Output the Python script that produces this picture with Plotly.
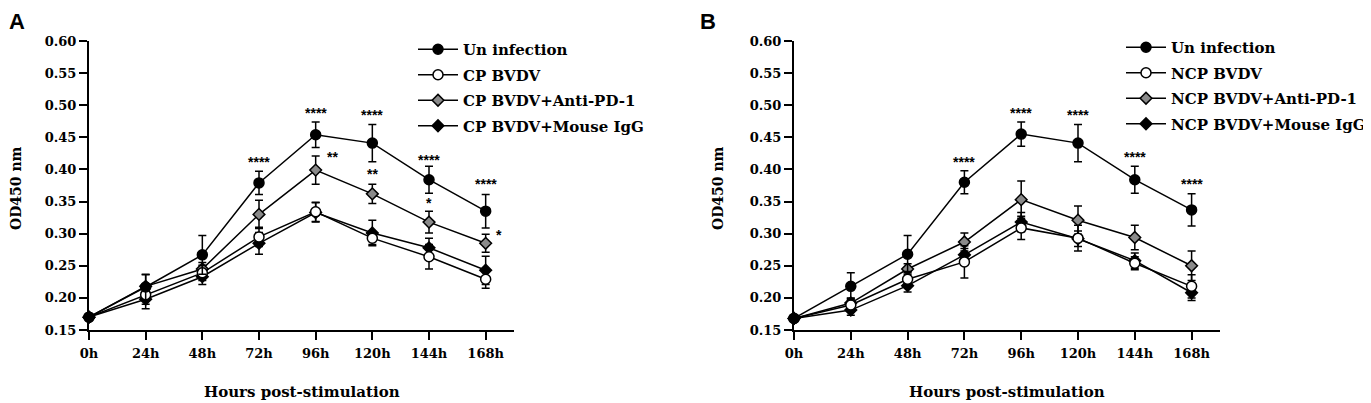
import plotly.graph_objects as go
from plotly.subplots import make_subplots

# %%
hours = [0, 24, 48, 72, 96, 120, 144, 168]
hour_labels = ["0h", "24h", "48h", "72h", "96h", "120h", "144h", "168h"]
y_ticks = [0.15, 0.20, 0.25, 0.30, 0.35, 0.40, 0.45, 0.50, 0.55, 0.60]

# panel A - CP BVDV
a_names = ["Un infection", "CP BVDV", "CP BVDV+Anti-PD-1", "CP BVDV+Mouse IgG"]
a_un = [0.170, 0.217, 0.267, 0.379, 0.454, 0.441, 0.384, 0.335]
a_un_err = [0, 0.020, 0.030, 0.018, 0.020, 0.029, 0.021, 0.026]
a_cp = [0.170, 0.205, 0.239, 0.295, 0.334, 0.293, 0.264, 0.229]
a_cp_err = [0, 0.015, 0.012, 0.015, 0.015, 0.010, 0.019, 0.014]
a_anti = [0.170, 0.218, 0.245, 0.330, 0.399, 0.362, 0.318, 0.285]
a_anti_err = [0, 0.018, 0.010, 0.022, 0.022, 0.015, 0.017, 0.014]
a_igg = [0.170, 0.198, 0.233, 0.285, 0.333, 0.301, 0.278, 0.243]
a_igg_err = [0, 0.015, 0.012, 0.017, 0.015, 0.020, 0.015, 0.022]

# panel B - NCP BVDV
b_names = ["Un infection", "NCP BVDV", "NCP BVDV+Anti-PD-1", "NCP BVDV+Mouse IgG"]
b_un = [0.168, 0.218, 0.268, 0.380, 0.455, 0.441, 0.384, 0.337]
b_un_err = [0, 0.021, 0.029, 0.018, 0.019, 0.029, 0.021, 0.025]
b_ncp = [0.168, 0.189, 0.229, 0.256, 0.309, 0.293, 0.254, 0.218]
b_ncp_err = [0, 0.010, 0.012, 0.025, 0.018, 0.020, 0.010, 0.018]
b_anti = [0.168, 0.192, 0.245, 0.287, 0.353, 0.321, 0.294, 0.250]
b_anti_err = [0, 0.008, 0.008, 0.014, 0.029, 0.022, 0.019, 0.023]
b_igg = [0.168, 0.181, 0.219, 0.267, 0.318, 0.292, 0.258, 0.208]
b_igg_err = [0, 0.008, 0.010, 0.010, 0.015, 0.012, 0.012, 0.012]

# significance marks (hour, y, text)
a_stars = [(72, 0.412, "****"), (96, 0.488, "****"), (103, 0.419, "**"),
           (120, 0.485, "****"), (120, 0.393, "**"), (144, 0.415, "****"),
           (144, 0.348, "*"), (168, 0.377, "****"), (173.5, 0.298, "*")]
b_stars = [(72, 0.412, "****"), (96, 0.488, "****"), (120, 0.485, "****"),
           (144, 0.419, "****"), (168, 0.377, "****")]

# %%
W, H = 1371, 403
OFF = 8  # page body margin, positions below are screen pixels
SERIF = "DejaVu Serif"


def px(x):
    return (x - OFF) / W


def py(y):
    return 1 - (y - OFF) / H


styles = [
    dict(symbol="circle", color="black", size=10),
    dict(symbol="circle", color="white", size=10),
    dict(symbol="diamond", color="#8a8a8a", size=9),
    dict(symbol="diamond", color="black", size=9),
]

fig = make_subplots(rows=1, cols=2)


def add_panel(col, names, series, errs, legend):
    # draw back to front so un infection / open circles sit on top
    for k in [3, 2, 1, 0]:
        st = styles[k]
        fig.add_trace(
            go.Scatter(
                x=hours, y=series[k], name=names[k],
                mode="lines+markers",
                line=dict(color="black", width=1.5),
                marker=dict(symbol=st["symbol"], size=st["size"], color=st["color"],
                            line=dict(color="black", width=1.5)),
                error_y=dict(type="data", array=errs[k], color="black",
                             thickness=1.5, width=4),
                legend=legend, legendgroup=legend + str(k), legendrank=k + 1,
                cliponaxis=False,
            ),
            row=1, col=col,
        )


add_panel(1, a_names, [a_un, a_cp, a_anti, a_igg],
          [a_un_err, a_cp_err, a_anti_err, a_igg_err], "legend")
add_panel(2, b_names, [b_un, b_ncp, b_anti, b_igg],
          [b_un_err, b_ncp_err, b_anti_err, b_igg_err], "legend2")

axis_common = dict(
    showline=True, linecolor="black", linewidth=2,
    ticks="outside", ticklen=8, tickwidth=2, tickcolor="black",
    showgrid=False, zeroline=False, automargin=False,
    tickfont=dict(family=SERIF, size=13, color="black", weight="bold"),
)
fig.update_xaxes(range=[0, 180], tickvals=hours, ticktext=hour_labels,
                 ticklabelstandoff=2, **axis_common)
fig.update_yaxes(range=[0.15, 0.60], tickvals=y_ticks, tickformat=".2f",
                 **axis_common)

fig.update_layout(
    xaxis=dict(domain=[px(89), px(514)]),
    xaxis2=dict(domain=[px(794), px(1220)]),
    yaxis=dict(domain=[py(330), py(41)]),
    yaxis2=dict(domain=[py(330), py(41)]),
)

legend_common = dict(
    font=dict(family=SERIF, size=15, color="black", weight="bold"),
    bgcolor="rgba(0,0,0,0)", itemwidth=40, tracegroupgap=3,
    xanchor="left", yanchor="top",
)
fig.update_layout(
    legend=dict(x=px(413), y=py(33), **legend_common),
    legend2=dict(x=px(1121), y=py(31), **legend_common),
)

for xref, yref, stars in [("x", "y", a_stars), ("x2", "y2", b_stars)]:
    for h, yv, txt in stars:
        fig.add_annotation(x=h, y=yv, xref=xref, yref=yref, text=txt,
                           showarrow=False, xanchor="center", yanchor="middle",
                           font=dict(family="Liberation Sans", size=14, color="black",
                                     weight="bold"))


def paper_text(x, y, txt, font, angle=0, xanchor="center", yanchor="middle"):
    fig.add_annotation(x=px(x), y=py(y), xref="paper", yref="paper",
                       text=txt, textangle=angle, showarrow=False, borderpad=0,
                       xanchor=xanchor, yanchor=yanchor, font=font)


title_font = dict(family=SERIF, size=15, color="black", weight="bold")
paper_text((89 + 514) / 2, 392, "Hours post-stimulation", title_font)
paper_text((794 + 1220) / 2, 392, "Hours post-stimulation", title_font)
ytitle_font = dict(family=SERIF, size=14, color="black", weight="bold")
paper_text(16, 188, "OD450 nm", ytitle_font, angle=-90)
paper_text(718, 188, "OD450 nm", ytitle_font, angle=-90)
panel_font = dict(family="Liberation Sans", size=22, color="black", weight="bold")
paper_text(OFF, OFF, "A", panel_font, xanchor="left", yanchor="top")
paper_text(699, OFF, "B", panel_font, xanchor="left", yanchor="top")

fig.update_layout(
    width=W, height=H,
    margin=dict(l=0, r=0, t=0, b=0, autoexpand=False),
    plot_bgcolor="white", paper_bgcolor="white",
)

fig.write_html("out.html")
